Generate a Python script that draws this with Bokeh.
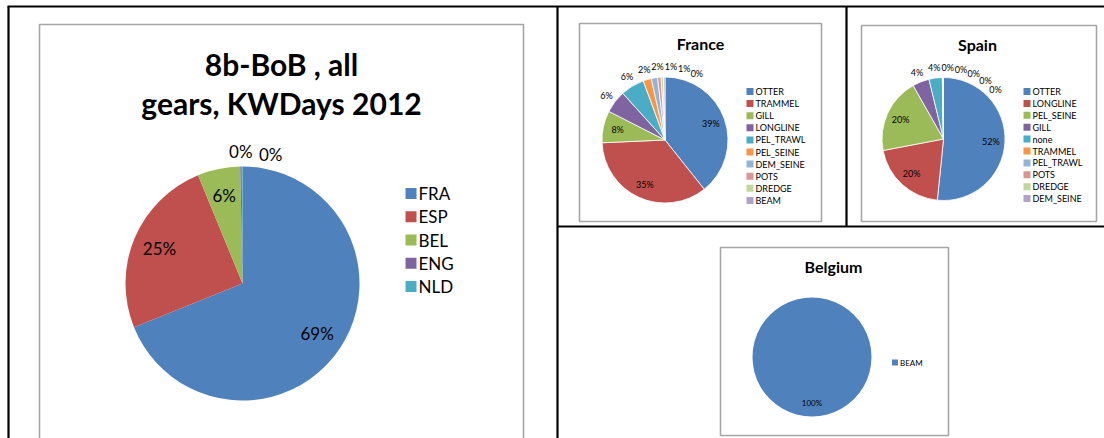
import math
from bokeh.plotting import figure
from bokeh.models import Range1d, ColumnDataSource
from bokeh.core.properties import value
from bokeh.embed import file_html
from bokeh.resources import INLINE

# ---------------- data ----------------
main_title = ["8b-BoB , all", "gears, KWDays 2012"]
main_cats = ["FRA", "ESP", "BEL", "ENG", "NLD"]
main_vals = [68.9, 24.9, 5.9, 0.2, 0.1]

france_title = "France"
france_cats = ["OTTER", "TRAMMEL", "GILL", "LONGLINE", "PEL_TRAWL",
               "PEL_SEINE", "DEM_SEINE", "POTS", "DREDGE", "BEAM"]
france_vals = [39.3, 35.0, 8.2, 5.8, 6.1, 2.1, 1.6, 0.9, 0.6, 0.4]

spain_title = "Spain"
spain_cats = ["OTTER", "LONGLINE", "PEL_SEINE", "GILL", "none",
              "TRAMMEL", "PEL_TRAWL", "POTS", "DREDGE", "DEM_SEINE"]
spain_vals = [51.6, 20.4, 19.8, 4.4, 3.5, 0.1, 0.05, 0.05, 0.05, 0.05]

belgium_title = "Belgium"
belgium_cats = ["BEAM"]
belgium_vals = [100.0]

PALETTE = ["#4F81BD", "#C0504D", "#9BBB59", "#8064A2", "#4BACC6",
           "#F79646", "#95B3D7", "#D99694", "#C3D69B", "#B3A2C7"]

FONT = "Lato"
W, H = 1104, 438


def Y(y):
    return H - y


p = figure(width=W, height=H, x_range=Range1d(0, W), y_range=Range1d(0, H),
           output_backend="svg", toolbar_location=None, min_border=0,
           x_axis_type=None, y_axis_type=None)
p.grid.visible = False
p.outline_line_color = None
p.background_fill_color = "white"
p.border_fill_color = "white"

# ---------------- frames ----------------
def box(l, t, r, b):
    p.quad(left=l, right=r, top=Y(t), bottom=Y(b), fill_color=None,
           line_color="#A6A6A6", line_width=1.6)

box(39, 24, 523, 460)
box(579, 23, 821, 221)
box(861, 25, 1096, 221)
box(720, 247, 948, 435)

p.segment(x0=[7, 8, 557, 846, 557], y0=[Y(6), Y(6), Y(6), Y(6), Y(226)],
          x1=[1104, 8, 557, 846, 1104], y1=[Y(6), Y(440), Y(440), Y(226), Y(226)],
          line_color="black", line_width=2.2)


def pie(cx, cy, r, cats, vals, font_px, inside_min, edge, lab_r=1.17,
        sep_px=None, title=None, title_xy=None, title_px=16, title_step=22,
        leg_x=None, leg_y0=None, leg_dy=None, leg_sq=7, leg_px=9):
    total = float(sum(vals))
    fr = [v / total for v in vals]
    cum = [0.0]
    for f in fr:
        cum.append(cum[-1] + f)
    starts, ends = [], []
    for i, f in enumerate(fr):
        a0 = math.pi / 2 - 2 * math.pi * cum[i]
        a1 = math.pi / 2 - 2 * math.pi * cum[i + 1]
        if f >= 0.9999:
            a1 = a0 - 2 * math.pi + 1e-4
        starts.append(a0)
        ends.append(a1)
    colors = PALETTE[:len(vals)]
    src = ColumnDataSource(dict(start=starts, end=ends, color=colors))
    p.wedge(x=cx, y=Y(cy), radius=r, start_angle="start", end_angle="end",
            direction="clock", fill_color="color", line_color=edge,
            line_width=0.8, source=src)

    # labels
    texts = [f"{int(round(f * 100))}%" for f in fr]
    mids = [(cum[i] + fr[i] / 2) * 360.0 for i in range(len(fr))]
    lx, ly, lt = [], [], []
    if sep_px is None:
        sep_px = 1.5 * font_px
    sep = math.degrees(sep_px / (r * lab_r))
    last = None
    for i, f in enumerate(fr):
        pct = f * 100
        if pct >= inside_min:
            rr, ang = 0.77 * r, mids[i]
        else:
            ang = mids[i]
            if last is not None and ang < last + sep:
                ang = last + sep
            last = ang
            rr = lab_r * r
        th = math.radians(ang)
        lx.append(cx + rr * math.sin(th))
        ly.append(Y(cy - rr * math.cos(th)))
        lt.append(texts[i])
    p.text(x=lx, y=ly, text=lt, text_font=value(FONT),
           text_font_size=f"{font_px}px", text_align="center",
           text_baseline="middle", text_color="black")

    # title
    if title is not None:
        tx, ty = title_xy
        lines = title if isinstance(title, list) else [title]
        p.text(x=[tx] * len(lines), y=[Y(ty + k * title_step) for k in range(len(lines))],
               text=lines, text_font=value(FONT), text_font_size=f"{title_px}px",
               text_font_style="bold", text_align="center",
               text_baseline="middle", text_color="black")

    # legend
    ys = [Y(leg_y0 + k * leg_dy) for k in range(len(cats))]
    p.rect(x=[leg_x] * len(cats), y=ys, width=leg_sq, height=leg_sq,
           fill_color=colors, line_color=None)
    p.text(x=[leg_x + leg_sq / 2 + 2] * len(cats), y=ys, text=cats,
           text_font=value(FONT), text_font_size=f"{leg_px}px",
           text_align="left", text_baseline="middle", text_color="black")


pie(242, 283, 117, main_cats, main_vals, 17, 3, None, lab_r=1.13, sep_px=30,
    title=main_title, title_xy=(281, 63), title_px=30, title_step=39,
    leg_x=410.5, leg_y0=193, leg_dy=23.25, leg_sq=11, leg_px=17)

pie(664.5, 139.5, 63, france_cats, france_vals, 9, 7, "white",
    title=france_title, title_xy=(700, 43), title_px=16,
    leg_x=749.5, leg_y0=91, leg_dy=12.1, leg_sq=7, leg_px=9)

pie(943, 138.5, 61.5, spain_cats, spain_vals, 9, 10, "white",
    title=spain_title, title_xy=(977, 44), title_px=16,
    leg_x=1026.5, leg_y0=91, leg_dy=11.9, leg_sq=7, leg_px=9)

pie(811.5, 356.5, 59.5, belgium_cats, belgium_vals, 8, 5, None,
    title=belgium_title, title_xy=(833, 266), title_px=16,
    leg_x=894.5, leg_y0=362, leg_dy=12, leg_sq=6, leg_px=8)

open("out.html", "w").write(file_html(p, INLINE))
